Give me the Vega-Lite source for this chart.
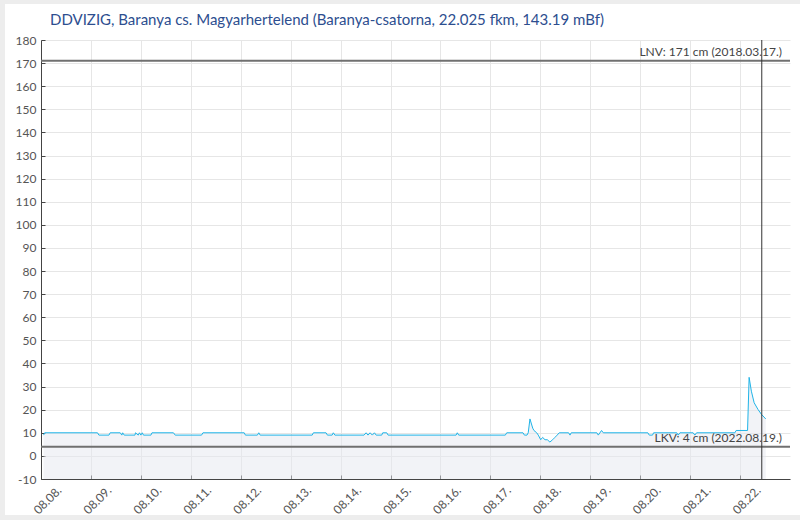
{
  "$schema": "https://vega.github.io/schema/vega-lite/v6.json",
  "autosize": "none",
  "width": 749,
  "height": 439,
  "padding": {"left": 41, "top": 40, "right": 10, "bottom": 41},
  "background": "#ededed",
  "title": {
    "text": "DDVIZIG, Baranya cs. Magyarhertelend (Baranya-csatorna, 22.025 fkm, 143.19 mBf)",
    "anchor": "start",
    "frame": "group",
    "dx": 9,
    "offset": 6,
    "font": "Lato",
    "fontSize": 15,
    "fontWeight": "normal",
    "color": "#2d4e8f"
  },
  "datasets": {
    "series": [
      {"t": "2022-08-08T01:15", "v": 9},
      {"t": "2022-08-08T01:45", "v": 10},
      {"t": "2022-08-09T03:10", "v": 10},
      {"t": "2022-08-09T03:50", "v": 9},
      {"t": "2022-08-09T08:40", "v": 9},
      {"t": "2022-08-09T09:15", "v": 10},
      {"t": "2022-08-09T14:05", "v": 10},
      {"t": "2022-08-09T14:50", "v": 9},
      {"t": "2022-08-09T15:15", "v": 10},
      {"t": "2022-08-09T16:00", "v": 9},
      {"t": "2022-08-09T21:10", "v": 9},
      {"t": "2022-08-09T21:25", "v": 10},
      {"t": "2022-08-09T22:45", "v": 9},
      {"t": "2022-08-09T23:20", "v": 10},
      {"t": "2022-08-10T00:00", "v": 9},
      {"t": "2022-08-10T00:40", "v": 10},
      {"t": "2022-08-10T01:15", "v": 9},
      {"t": "2022-08-10T04:50", "v": 9},
      {"t": "2022-08-10T05:20", "v": 10},
      {"t": "2022-08-10T15:40", "v": 10},
      {"t": "2022-08-10T16:30", "v": 9},
      {"t": "2022-08-11T05:10", "v": 9},
      {"t": "2022-08-11T05:50", "v": 10},
      {"t": "2022-08-12T01:40", "v": 10},
      {"t": "2022-08-12T02:15", "v": 9},
      {"t": "2022-08-12T08:00", "v": 9},
      {"t": "2022-08-12T08:40", "v": 10},
      {"t": "2022-08-12T09:20", "v": 9},
      {"t": "2022-08-13T10:20", "v": 9},
      {"t": "2022-08-13T10:55", "v": 10},
      {"t": "2022-08-13T17:00", "v": 10},
      {"t": "2022-08-13T17:40", "v": 9},
      {"t": "2022-08-13T19:55", "v": 9},
      {"t": "2022-08-13T20:30", "v": 10},
      {"t": "2022-08-13T21:15", "v": 9},
      {"t": "2022-08-14T11:15", "v": 9},
      {"t": "2022-08-14T12:15", "v": 10},
      {"t": "2022-08-14T13:10", "v": 9},
      {"t": "2022-08-14T14:10", "v": 10},
      {"t": "2022-08-14T15:15", "v": 9},
      {"t": "2022-08-14T16:15", "v": 10},
      {"t": "2022-08-14T17:05", "v": 9},
      {"t": "2022-08-14T19:45", "v": 9},
      {"t": "2022-08-14T20:15", "v": 10},
      {"t": "2022-08-14T22:10", "v": 10},
      {"t": "2022-08-14T22:50", "v": 9},
      {"t": "2022-08-16T07:30", "v": 9},
      {"t": "2022-08-16T08:05", "v": 10},
      {"t": "2022-08-16T08:45", "v": 9},
      {"t": "2022-08-17T07:10", "v": 9},
      {"t": "2022-08-17T07:50", "v": 10},
      {"t": "2022-08-17T15:40", "v": 10},
      {"t": "2022-08-17T16:20", "v": 9},
      {"t": "2022-08-17T17:35", "v": 9},
      {"t": "2022-08-17T18:10", "v": 10},
      {"t": "2022-08-17T19:00", "v": 16},
      {"t": "2022-08-17T20:20", "v": 12},
      {"t": "2022-08-17T20:55", "v": 11},
      {"t": "2022-08-17T22:15", "v": 10},
      {"t": "2022-08-17T23:00", "v": 9},
      {"t": "2022-08-18T00:10", "v": 7},
      {"t": "2022-08-18T01:05", "v": 8},
      {"t": "2022-08-18T02:15", "v": 7},
      {"t": "2022-08-18T03:20", "v": 7},
      {"t": "2022-08-18T04:35", "v": 6},
      {"t": "2022-08-18T05:55", "v": 7},
      {"t": "2022-08-18T07:00", "v": 8},
      {"t": "2022-08-18T08:05", "v": 9},
      {"t": "2022-08-18T09:05", "v": 10},
      {"t": "2022-08-18T13:35", "v": 10},
      {"t": "2022-08-18T14:15", "v": 9},
      {"t": "2022-08-18T14:50", "v": 10},
      {"t": "2022-08-19T03:10", "v": 10},
      {"t": "2022-08-19T03:50", "v": 9},
      {"t": "2022-08-19T05:25", "v": 11},
      {"t": "2022-08-19T06:15", "v": 10},
      {"t": "2022-08-20T03:40", "v": 10},
      {"t": "2022-08-20T04:20", "v": 9},
      {"t": "2022-08-20T05:55", "v": 9},
      {"t": "2022-08-20T06:25", "v": 10},
      {"t": "2022-08-20T17:35", "v": 10},
      {"t": "2022-08-20T18:15", "v": 9},
      {"t": "2022-08-20T19:05", "v": 10},
      {"t": "2022-08-21T01:25", "v": 10},
      {"t": "2022-08-21T02:15", "v": 9},
      {"t": "2022-08-21T03:05", "v": 10},
      {"t": "2022-08-21T21:30", "v": 10},
      {"t": "2022-08-21T22:05", "v": 11},
      {"t": "2022-08-22T03:35", "v": 11},
      {"t": "2022-08-22T04:20", "v": 34},
      {"t": "2022-08-22T05:25", "v": 28},
      {"t": "2022-08-22T06:45", "v": 23},
      {"t": "2022-08-22T08:40", "v": 20},
      {"t": "2022-08-22T10:15", "v": 18},
      {"t": "2022-08-22T12:20", "v": 16}
    ],
    "limits": [
      {"label": "LNV: 171 cm (2018.03.17.)", "v": 171},
      {"label": "LKV: 4 cm (2022.08.19.)", "v": 4}
    ],
    "now": [{"t": "2022-08-22T10:25"}]
  },
  "layer": [
    {
      "data": {"name": "series"},
      "mark": {"type": "area", "fill": "#e5e7ef", "fillOpacity": 0.5},
      "encoding": {
        "x": {
          "field": "t",
          "type": "temporal",
          "title": null,
          "scale": {
            "domain": [
              {"year": 2022, "month": 8, "date": 8},
              {"year": 2022, "month": 8, "date": 22, "hours": 23, "minutes": 59}
            ]
          },
          "axis": {
            "values": [
              {"year": 2022, "month": 8, "date": 8},
              {"year": 2022, "month": 8, "date": 9},
              {"year": 2022, "month": 8, "date": 10},
              {"year": 2022, "month": 8, "date": 11},
              {"year": 2022, "month": 8, "date": 12},
              {"year": 2022, "month": 8, "date": 13},
              {"year": 2022, "month": 8, "date": 14},
              {"year": 2022, "month": 8, "date": 15},
              {"year": 2022, "month": 8, "date": 16},
              {"year": 2022, "month": 8, "date": 17},
              {"year": 2022, "month": 8, "date": 18},
              {"year": 2022, "month": 8, "date": 19},
              {"year": 2022, "month": 8, "date": 20},
              {"year": 2022, "month": 8, "date": 21},
              {"year": 2022, "month": 8, "date": 22}
            ],
            "tickCount": 20,
            "format": "%m.%d.",
            "labelAngle": -45,
            "labelAlign": "right",
            "labelBaseline": "middle",
            "labelOffset": 18,
            "labelPadding": 13,
            "labelOverlap": false,
            "ticks": true,
            "tickSize": -4
          }
        },
        "y": {
          "field": "v",
          "type": "quantitative",
          "title": null,
          "scale": {"domain": [-10, 180], "nice": false, "zero": false},
          "axis": {
            "values": [-10, 0, 10, 20, 30, 40, 50, 60, 70, 80, 90, 100, 110, 120, 130, 140, 150, 160, 170, 180],
            "tickCount": 25,
            "labelExpr": "datum.value",
            "labelOverlap": false,
            "ticks": true,
            "tickSize": -4,
            "labelPadding": 9
          }
        },
        "y2": {"datum": -10}
      }
    },
    {
      "data": {"name": "series"},
      "mark": {"type": "line", "stroke": "#1fb4e8", "strokeWidth": 1},
      "encoding": {
        "x": {"field": "t", "type": "temporal"},
        "y": {"field": "v", "type": "quantitative"}
      }
    },
    {
      "data": {"name": "limits"},
      "mark": {"type": "rule", "stroke": "#707070", "strokeWidth": 2},
      "encoding": {
        "y": {"field": "v", "type": "quantitative"}
      }
    },
    {
      "data": {"name": "now"},
      "mark": {"type": "rule", "stroke": "#333333", "strokeWidth": 1},
      "encoding": {
        "x": {"field": "t", "type": "temporal"}
      }
    },
    {
      "data": {"name": "limits"},
      "mark": {
        "type": "text",
        "align": "right",
        "baseline": "alphabetic",
        "dx": -8,
        "dy": -5,
        "font": "Lato",
        "fontSize": 12,
        "color": "#444444"
      },
      "encoding": {
        "x": {"datum": {"year": 2022, "month": 8, "date": 22, "hours": 23, "minutes": 59}, "type": "temporal"},
        "y": {"field": "v", "type": "quantitative"},
        "text": {"field": "label"}
      }
    }
  ],
  "config": {
    "view": {"fill": "#ffffff", "stroke": "#ffffff", "strokeWidth": 72},
    "font": "Lato",
    "axis": {
      "labelFont": "Lato",
      "labelFontSize": 12,
      "labelColor": "#555555",
      "domainColor": "#444444",
      "tickColor": "#444444",
      "gridColor": "#e6e6e6",
      "grid": true,
      "labelFlush": false
    }
  }
}
